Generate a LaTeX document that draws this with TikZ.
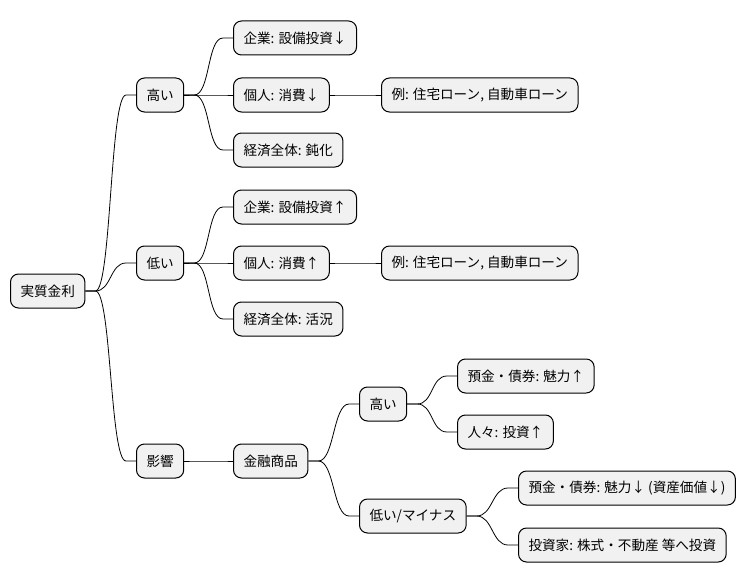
\documentclass[tikz,border=0pt]{standalone}
\usepackage{fontspec}
\setmainfont{Noto Sans CJK JP}
\usetikzlibrary{calc}
\definecolor{boxgray}{HTML}{F1F1F1}
\tikzset{
  topic/.style={draw,fill=boxgray,rounded corners=8pt,line width=1pt,
    anchor=west,minimum height=34pt,inner xsep=10pt,font=\fontsize{13.6}{15}\selectfont},
  edge/.style={line width=0.8pt}
}
\newcommand\Branch[2]{
  \draw[edge] (#1.east) -- ++(10,0) .. controls +(16,0) and ($(#2.west)+(-26,0)$) .. ($(#2.west)+(-10,0)$) -- (#2.west);
}

\begin{document}
\begin{tikzpicture}[x=1pt,y=-1pt]
\useasboundingbox (0,0) rectangle (751,583);
\node[topic] (root) at (10,291) {実質金利};
% high
\node[topic] (hi) at (136,95) {高い};
\node[topic] (hiFirm) at (233,38) {企業: 設備投資↓};
\node[topic] (hiPers) at (233,95) {個人: 消費↓};
\node[topic] (hiEx) at (381,95) {例: 住宅ローン, 自動車ローン};
\node[topic] (hiEcon) at (233,150) {経済全体: 鈍化};
% low
\node[topic] (lo) at (136,263) {低い};
\node[topic] (loFirm) at (233,207) {企業: 設備投資↑};
\node[topic] (loPers) at (233,263) {個人: 消費↑};
\node[topic] (loEx) at (381,263) {例: 住宅ローン, 自動車ローン};
\node[topic] (loEcon) at (233,319) {経済全体: 活況};
% effect
\node[topic] (eff) at (136,461) {影響};
\node[topic] (fin) at (233,461) {金融商品};
\node[topic] (finHi) at (359,404) {高い};
\node[topic] (finHiA) at (457,376) {預金・債券: 魅力↑};
\node[topic] (finHiB) at (457,432) {人々: 投資↑};
\node[topic] (finLo) at (359,516) {低い/マイナス};
\node[topic] (finLoA) at (518,488) {預金・債券: 魅力↓ (資産価値↓)};
\node[topic] (finLoB) at (518,545) {投資家: 株式・不動産 等へ投資};

\Branch{root}{hi}
\Branch{root}{lo}
\Branch{root}{eff}
\Branch{hi}{hiFirm}
\Branch{hi}{hiPers}
\Branch{hi}{hiEcon}
\Branch{hiPers}{hiEx}
\Branch{lo}{loFirm}
\Branch{lo}{loPers}
\Branch{lo}{loEcon}
\Branch{loPers}{loEx}
\Branch{eff}{fin}
\Branch{fin}{finHi}
\Branch{fin}{finLo}
\Branch{finHi}{finHiA}
\Branch{finHi}{finHiB}
\Branch{finLo}{finLoA}
\Branch{finLo}{finLoB}
\end{tikzpicture}
\end{document}
